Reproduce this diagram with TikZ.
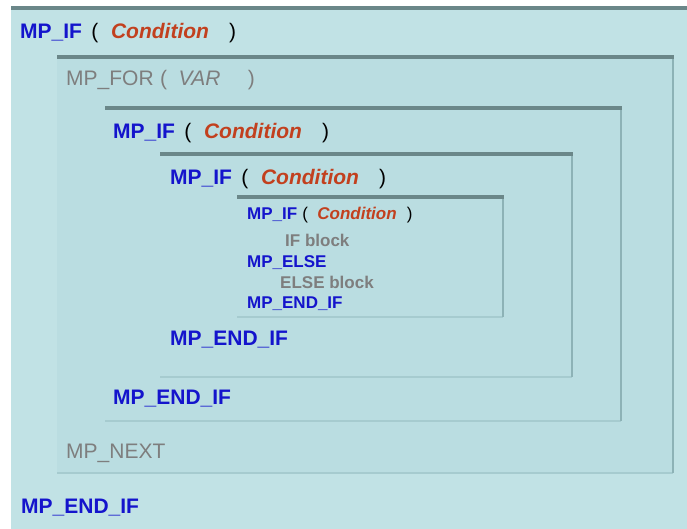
\documentclass[tikz,border=0pt]{standalone}
\usepackage{fontspec}
\setmainfont{Liberation Sans}
\usetikzlibrary{positioning}

\definecolor{bgcyan}{HTML}{C1E2E5}
\definecolor{boxcyan}{HTML}{BADDE1}
\definecolor{edgedark}{HTML}{6B8789}
\definecolor{edgemid}{HTML}{8DB2B6}
\definecolor{edgelow}{HTML}{A6CBCF}
\definecolor{kwblue}{HTML}{1414CC}
\definecolor{condred}{HTML}{C2401E}
\definecolor{txtgrey}{HTML}{7E7E7E}

\tikzset{
    txt/.style={anchor=base west, inner sep=0pt},
    big/.style={font=\fontsize{21}{25}\selectfont},
    small/.style={font=\fontsize{17}{20}\selectfont},
    edgetop/.style={edgedark, line width=3.5pt},
    edgeright/.style={edgemid, line width=2.5pt},
    edgebottom/.style={edgelow, line width=1.5pt}
}

\newcommand{\kw}[1]{\textcolor{kwblue}{\bfseries #1}}
\newcommand{\cnd}[1]{\textcolor{condred}{\bfseries\itshape #1}}
\newcommand{\ifline}{\kw{MP\_IF}\hspace{0.45em}(\hspace{0.6em}\cnd{Condition}\hspace{0.95em})}

\begin{document}
\begin{tikzpicture}[x=1pt, y=-1pt]
    \useasboundingbox (0,0) rectangle (687,529);
    \fill[white] (0,0) rectangle (687,529);

    % outer block
    \fill[bgcyan] (11,8) rectangle (687,529);
    \draw[edgetop] (11,8) -- (687,8);

    % nested blocks
    \foreach \l/\t/\r/\b in {57/57/673/473, 105/108/621/421, 160/154/572/377, 237/197/503/317}{
        \fill[boxcyan] (\l,\t) rectangle (\r,\b);
        \draw[edgebottom] (\l,\b) -- (\r,\b);
        \draw[edgeright] (\r,\t) -- (\r,\b);
        \draw[edgetop] (\l,\t) -- (\r+1,\t);
    }

    \draw (20, 38.5) node[txt, big] (if0) {\ifline};
    \draw (66, 85.5) node[txt, big, text=txtgrey] (for1) {MP\_FOR\hspace{0.3em}(\hspace{0.55em}\itshape VAR\hspace{1.3em}\upshape)};
    \draw (113, 138.5) node[txt, big] (if2) {\ifline};
    \draw (170, 184.5) node[txt, big] (if3) {\ifline};

    \draw (247, 219) node[txt, small] (if4) {\kw{MP\_IF}\hspace{0.3em}(\hspace{0.55em}\cnd{Condition}\hspace{0.6em})};
    \draw (285, 246) node[txt, small, text=txtgrey] (ifblock) {\bfseries IF block};
    \draw (247, 267) node[txt, small] (else4) {\kw{MP\_ELSE}};
    \draw (280, 288) node[txt, small, text=txtgrey] (elseblock) {\bfseries ELSE block};
    \draw (247, 308) node[txt, small] (end4) {\kw{MP\_END\_IF}};

    \draw (170, 345) node[txt, big] (end3) {\kw{MP\_END\_IF}};
    \draw (113, 404.5) node[txt, big] (end2) {\kw{MP\_END\_IF}};
    \draw (66, 458.5) node[txt, big, text=txtgrey] (next1) {MP\_NEXT};
    \draw (21, 513) node[txt, big] (end0) {\kw{MP\_END\_IF}};
\end{tikzpicture}
\end{document}
